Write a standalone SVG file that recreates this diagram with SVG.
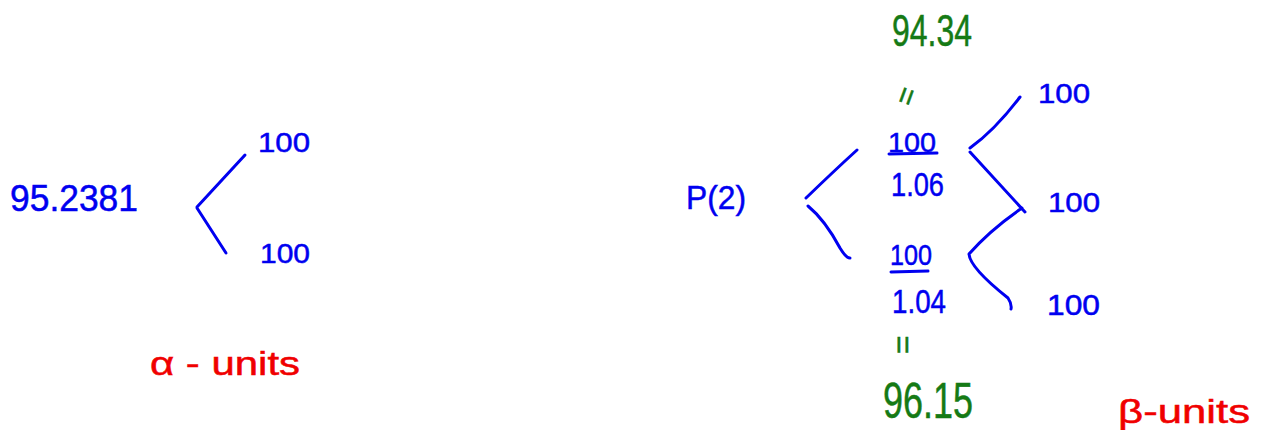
<svg xmlns="http://www.w3.org/2000/svg" width="1261" height="430" viewBox="0 0 1261 430">
<style>
text{font-family:"Liberation Sans","DejaVu Sans",sans-serif;stroke-width:0.5}
.b{fill:#0000f0;stroke:#0000f0}
.g{fill:#157a15;stroke:#157a15}
.r{fill:#f00000;stroke:#f00000}
.ln{fill:none;stroke:#0000f0;stroke-width:3;stroke-linecap:round;stroke-linejoin:round}
.ul{fill:none;stroke:#0000f0;stroke-width:3;stroke-linecap:round}
</style>
<rect width="1261" height="430" fill="#ffffff"/>
<g id="connectors">
<path class="ln" d="M245,155 L197,207 M197,208 L226,253"/>
<path class="ln" d="M857,150 Q835,170 806,198 M808,206 Q825,220 840,248 Q846,258 850,258"/>
<path class="ln" d="M1020,97 Q995,130 970,148 M970,152 L1025,212 M1022,208 Q990,230 969,254 Q970,268 1008,298 Q1012,304 1011,309"/>
</g>
<g id="alpha-root"><text class="b" x="10" y="211" font-size="36" textLength="128" lengthAdjust="spacingAndGlyphs">95.2381</text></g>
<g id="alpha-up"><text class="b" x="258" y="152" font-size="28" textLength="52" lengthAdjust="spacingAndGlyphs">100</text></g>
<g id="alpha-down"><text class="b" x="260" y="263" font-size="28" textLength="50" lengthAdjust="spacingAndGlyphs">100</text></g>
<g id="alpha-label"><text class="r" x="150" y="375" font-size="34" textLength="150" lengthAdjust="spacingAndGlyphs">α - units</text></g>
<g id="beta-root"><text class="b" x="686" y="209" font-size="34" textLength="60" lengthAdjust="spacingAndGlyphs">P(2)</text></g>
<g id="price-94"><text class="g" x="892" y="46" font-size="44" textLength="80" lengthAdjust="spacingAndGlyphs">94.34</text></g>
<g id="eq-top"><text class="g" x="896" y="104" font-size="30" transform="rotate(-70 907 94)">=</text></g>
<g id="frac-up">
<text class="b" x="888" y="152" font-size="28" textLength="48" lengthAdjust="spacingAndGlyphs">100</text>
<path class="ul" d="M889,154 L937,153"/>
<text class="b" x="891" y="196" font-size="34" textLength="53" lengthAdjust="spacingAndGlyphs">1.06</text>
</g>
<g id="frac-down">
<text class="b" x="890" y="265" font-size="30" textLength="42" lengthAdjust="spacingAndGlyphs">100</text>
<path class="ul" d="M891,272 L928,271"/>
<text class="b" x="892" y="313" font-size="34" textLength="54" lengthAdjust="spacingAndGlyphs">1.04</text>
</g>
<g id="eq-bottom"><text class="g" x="891" y="354" font-size="32" transform="rotate(-90 902 343)">=</text></g>
<g id="price-96"><text class="g" x="883" y="418" font-size="50" textLength="90" lengthAdjust="spacingAndGlyphs">96.15</text></g>
<g id="leaf-1"><text class="b" x="1038" y="103" font-size="28" textLength="52" lengthAdjust="spacingAndGlyphs">100</text></g>
<g id="leaf-2"><text class="b" x="1048" y="212" font-size="28" textLength="52" lengthAdjust="spacingAndGlyphs">100</text></g>
<g id="leaf-3"><text class="b" x="1047" y="315" font-size="30" textLength="53" lengthAdjust="spacingAndGlyphs">100</text></g>
<g id="beta-label"><text class="r" x="1118" y="423" font-size="34" textLength="132" lengthAdjust="spacingAndGlyphs">β-units</text></g>
</svg>
